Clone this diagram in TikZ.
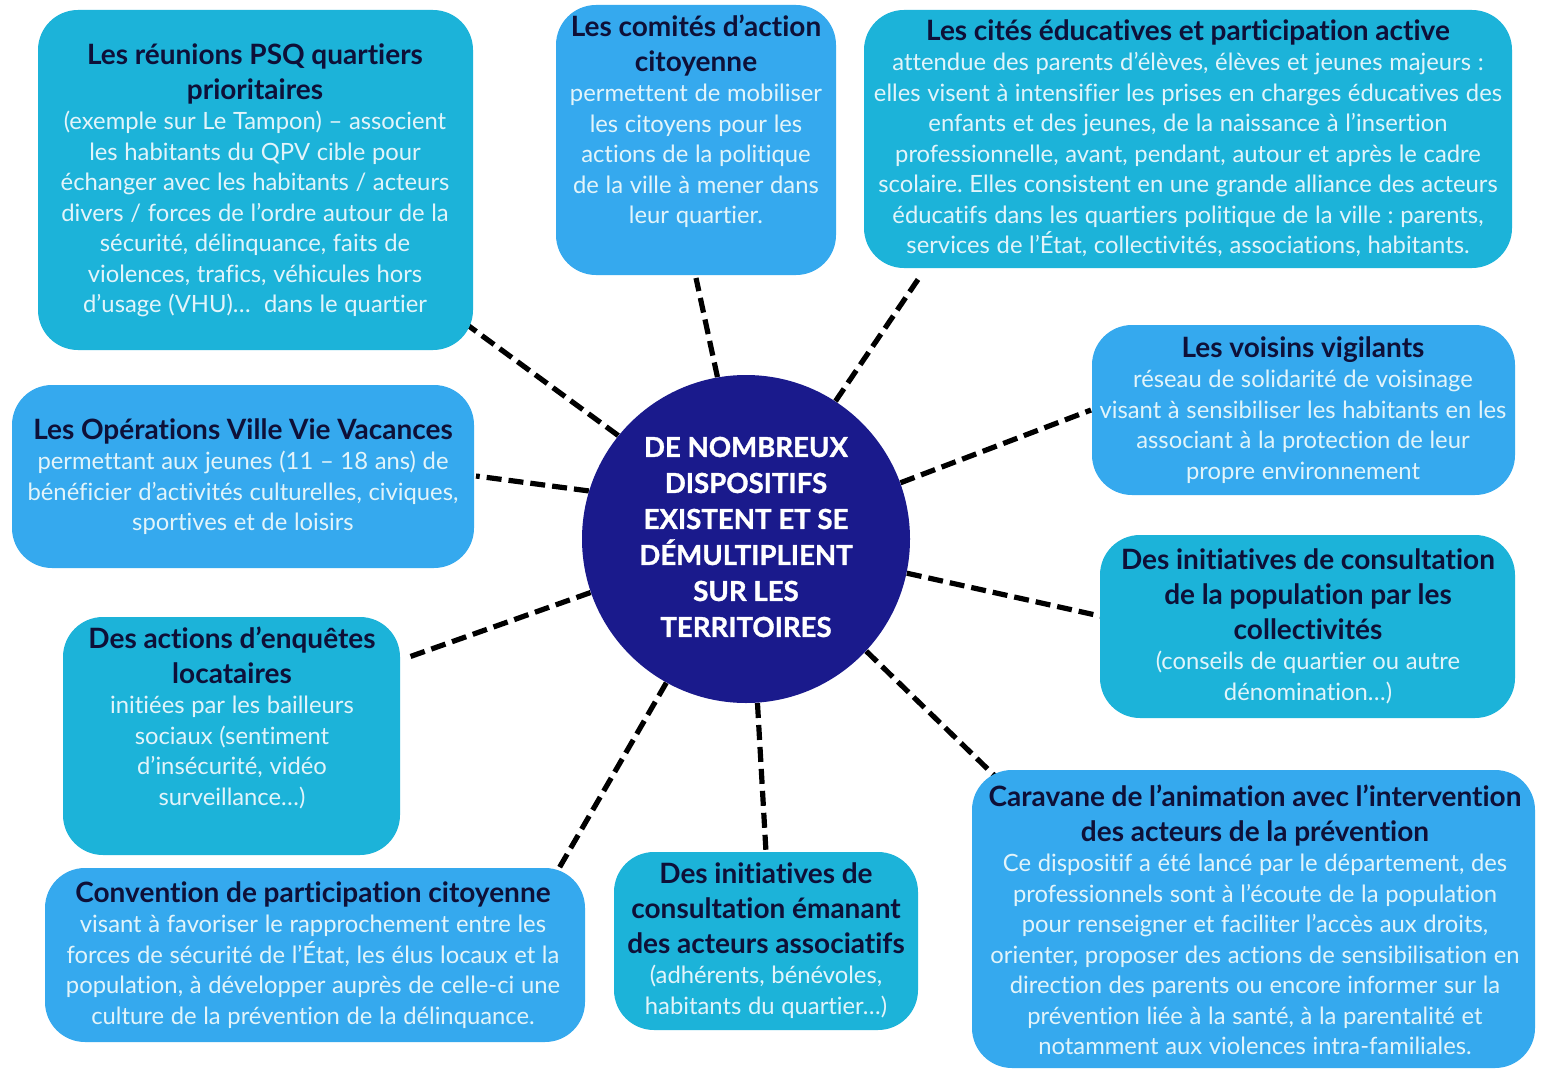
\documentclass[tikz,border=0pt]{standalone}
\usepackage{fontspec}
\setmainfont{Lato}[Ligatures=NoCommon]
\usetikzlibrary{backgrounds}
\frenchspacing

\definecolor{cyanbox}{HTML}{1CB3D9}
\definecolor{bluebox}{HTML}{35A9EE}
\definecolor{navy}{HTML}{1A1A8C}
\definecolor{titleink}{HTML}{0E1038}
\definecolor{bodyink}{HTML}{E2F4FA}

% title block and body block of a card
\newcommand\cardtitle[1]{{\color{titleink}\bfseries\fontsize{14}{17.5}\selectfont\rule{0pt}{14pt}#1\par}}
\newcommand\cardbody[1]{{\color{bodyink}\fontsize{11.9}{15.25}\selectfont#1\par}}

\tikzset{
  card/.style={rectangle, rounded corners=20pt, draw=none, fill=#1, inner sep=0pt},
  cardtext/.style={anchor=north, inner sep=0pt, align=center, text width=380pt},
  hub/.style={circle, fill=navy, draw=none, minimum size=164pt, inner sep=0pt},
  hubtext/.style={align=center, text=white, font=\bfseries\addfontfeature{FakeBold=1.2}\fontsize{13.8}{18}\selectfont, inner sep=0pt},
  link/.style={draw=black, line width=2.6pt, dash pattern=on 7.5pt off 3.5pt},
}

\begin{document}
\begin{tikzpicture}[x=0.5pt, y=-0.5pt]
\useasboundingbox (0,0) rectangle (1547,1070);

% cards
\node[card=cyanbox, minimum width=217.5pt, minimum height=170pt] (psq) at (255.5,180) {};
\node[card=bluebox, minimum width=140pt, minimum height=135pt] (comites) at (696,140) {};
\node[card=cyanbox, minimum width=324pt, minimum height=129pt] (cites) at (1188,139) {};
\node[card=bluebox, minimum width=211.5pt, minimum height=85pt] (voisins) at (1303.5,410) {};
\node[card=bluebox, minimum width=231pt, minimum height=91.5pt] (ovvv) at (243,476.5) {};
\node[card=cyanbox, minimum width=207.5pt, minimum height=91.5pt] (consult) at (1307.5,626.5) {};
\node[card=cyanbox, minimum width=168.5pt, minimum height=119pt] (enquetes) at (231.5,736) {};
\node[card=bluebox, minimum width=281.5pt, minimum height=149pt] (caravane) at (1253.5,919) {};
\node[card=cyanbox, minimum width=152pt, minimum height=89pt] (assoc) at (766,941) {};
\node[card=bluebox, minimum width=270pt, minimum height=87pt] (convention) at (315,955) {};

% central hub
\node[hub] (hub) at (746,539) {};
\node[hubtext] (hublabel) at (746,537) {DE NOMBREUX\\DISPOSITIFS\\EXISTENT ET SE\\DÉMULTIPLIENT\\SUR LES\\TERRITOIRES};

% card texts
\node[cardtext] (tpsq) at (255,36) {%
  \cardtitle{Les réunions PSQ quartiers\\prioritaires}%
  \cardbody{(exemple sur Le Tampon) – associent\\les habitants du QPV cible pour\\échanger avec les habitants / acteurs\\divers / forces de l’ordre autour de la\\sécurité, délinquance, faits de\\violences, trafics, véhicules hors\\d’usage (VHU)…\ \ dans le quartier}};

\node[cardtext] (tcomites) at (696,8) {%
  \cardtitle{Les comités d’action\\citoyenne}%
  \cardbody{permettent de mobiliser\\les citoyens pour les\\actions de la politique\\de la ville à mener dans\\leur quartier.}};

\node[cardtext] (tcites) at (1188,12) {%
  \cardtitle{Les cités éducatives et participation active}%
  \cardbody{attendue des parents d’élèves, élèves et jeunes majeurs :\\elles visent à intensifier les prises en charges éducatives des\\enfants et des jeunes, de la naissance à l’insertion\\professionnelle, avant, pendant, autour et après le cadre\\scolaire. Elles consistent en une grande alliance des acteurs\\éducatifs dans les quartiers politique de la ville : parents,\\services de l’État, collectivités, associations, habitants.}};

\node[cardtext] (tvoisins) at (1303,329) {%
  \cardtitle{Les voisins vigilants}%
  \cardbody{réseau de solidarité de voisinage\\visant à sensibiliser les habitants en les\\associant à la protection de leur\\propre environnement}};

\node[cardtext] (tovvv) at (243,411) {%
  \cardtitle{Les Opérations Ville Vie Vacances}%
  \cardbody{permettant aux jeunes (11 – 18 ans) de\\bénéficier d’activités culturelles, civiques,\\sportives et de loisirs}};

\node[cardtext] (tconsult) at (1308,541) {%
  \cardtitle{Des initiatives de consultation\\de la population par les\\collectivités}%
  \cardbody{(conseils de quartier ou autre\\dénomination…)}};

\node[cardtext] (tenquetes) at (232,620) {%
  \cardtitle{Des actions d’enquêtes\\locataires}%
  \cardbody{initiées par les bailleurs\\sociaux (sentiment\\d’insécurité, vidéo\\surveillance…)}};

\node[cardtext] (tcaravane) at (1255,778) {%
  \cardtitle{Caravane de l’animation avec l’intervention\\des acteurs de la prévention}%
  \cardbody{Ce dispositif a été lancé par le département, des\\professionnels sont à l’écoute de la population\\pour renseigner et faciliter l’accès aux droits,\\orienter, proposer des actions de sensibilisation en\\direction des parents ou encore informer sur la\\prévention liée à la santé, à la parentalité et\\notamment aux violences intra-familiales.}};

\node[cardtext] (tassoc) at (766,855) {%
  \cardtitle{Des initiatives de\\consultation émanant\\des acteurs associatifs}%
  \cardbody{(adhérents, bénévoles,\\habitants du quartier…)}};

\node[cardtext] (tconvention) at (313,874) {%
  \cardtitle{Convention de participation citoyenne}%
  \cardbody{visant à favoriser le rapprochement entre les\\forces de sécurité de l’État, les élus locaux et la\\population, à développer auprès de celle-ci une\\culture de la prévention de la délinquance.}};

% outer ends of the spokes, on the card edges
\coordinate (epsq) at (462,321);
\coordinate (ecomites) at (696,278);
\coordinate (ecites) at (919,278);
\coordinate (evoisins) at (1091,410);
\coordinate (eovvv) at (476,476);
\coordinate (econsult) at (1109,618);
\coordinate (eenquetes) at (409,657);
\coordinate (ecaravane) at (999,780);
\coordinate (eassoc) at (766,852);
\coordinate (econvention) at (558,870);

\begin{pgfonlayer}{background}
  \fill[white] (0,0) rectangle (1547,1070);
  \draw[link] (hub.141.6) -- (epsq);
  \draw[link] (hub.100.4) -- (ecomites);
  \draw[link] (hub.57.3) -- (ecites);
  \draw[link] (hub.20.6) -- (evoisins);
  \draw[link] (hub.163.6) -- (eovvv);
  \draw[link] (hub.-12) -- (econsult);
  \draw[link] (hub.199.1) -- (eenquetes);
  \draw[link] (hub.-43.5) -- (ecaravane);
  \draw[link] (hub.-86.5) -- (eassoc);
  \draw[link] (hub.-119.7) -- (econvention);
\end{pgfonlayer}
\end{tikzpicture}
\end{document}
